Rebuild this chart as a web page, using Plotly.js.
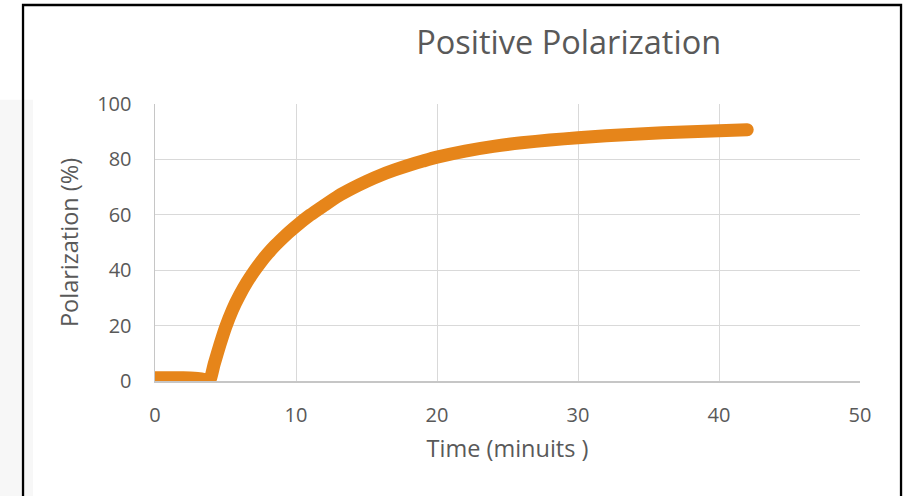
<!DOCTYPE html>
<html>
<head>
<meta charset="utf-8">
<script src="https://cdn.plot.ly/plotly-3.0.1.min.js"></script>
<style>
html,body{margin:0;padding:0;background:#fff;}
#chart{width:907px;height:496px;}
.scatterlayer .js-line{stroke-linecap:round !important;stroke-linejoin:round !important;}
</style>
</head>
<body>
<div id="chart"></div>
<script>
const chartTitle = "Positive Polarization";
const xTitle = "Time (minuits )";
const yTitle = "Polarization (%)";
const timeMin = [0, 0.5, 1, 1.5, 2, 2.5, 3, 3.5, 3.85, 4.2, 4.6, 5, 5.5, 6, 6.5, 7, 7.5, 8, 8.5, 9, 9.5, 10, 11, 12, 13, 14, 15, 16, 17, 18, 19, 20, 22, 24, 26, 28, 30, 32, 34, 36, 38, 40, 42];
const polarization = [1.2, 1.2, 1.2, 1.2, 1.2, 1.1, 0.9, 0.5, 0, 6.2, 13, 19.3, 25.8, 31, 35.5, 39.4, 42.9, 46, 48.8, 51.3, 53.7, 55.9, 59.9, 63.4, 66.8, 69.6, 72.1, 74.3, 76.2, 77.9, 79.4, 80.8, 83.0, 84.7, 86.0, 87.0, 87.8, 88.5, 89.1, 89.6, 90.0, 90.35, 90.7];
const xTicks = [0, 10, 20, 30, 40, 50];
const yTicks = [0, 20, 40, 60, 80, 100];

const font = "'Open Sans', 'Noto Sans', sans-serif";
const grey = "#595959";

const trace = {
  x: timeMin, y: polarization, type: "scatter", mode: "lines",
  line: {color: "#E6851A", width: 13, shape: "spline", smoothing: 0.6},
  hoverinfo: "skip", showlegend: false
};

const layout = {
  width: 907, height: 496,
  margin: {l: 155, r: 47, t: 104, b: 115, pad: 0},
  paper_bgcolor: "#fff", plot_bgcolor: "#fff",
  font: {family: font, color: grey, size: 20},
  title: {text: chartTitle, font: {family: font, size: 32.5, color: grey},
          x: 0.627, xref: "container", xanchor: "center", y: 0.915, yref: "container", yanchor: "middle"},
  xaxis: {
    range: [0, 50], tickvals: xTicks, ticktext: xTicks.map(String),
    showgrid: true, gridcolor: "#d9d9d9", gridwidth: 1,
    showline: true, linecolor: "#c6c6c6", linewidth: 1.5, zeroline: false,
    ticks: "", ticklabelstandoff: 15, tickfont: {size: 20, color: grey},
    title: {text: xTitle, font: {size: 23.5, color: grey}, standoff: 14},
    fixedrange: true
  },
  yaxis: {
    range: [0, 100], tickvals: yTicks, ticktext: yTicks.map(String),
    showgrid: true, gridcolor: "#d9d9d9", gridwidth: 1,
    showline: true, linecolor: "#c6c6c6", linewidth: 1.5, zeroline: false,
    ticks: "", ticklabelstandoff: 18, tickfont: {size: 20, color: grey},
    title: {text: yTitle, font: {size: 23.5, color: grey}, standoff: 12},
    fixedrange: true
  },
  shapes: [
    {type: "rect", xref: "paper", yref: "paper", layer: "below",
     x0: -0.22, x1: -0.1730, y0: -0.5, y1: 1.015, fillcolor: "#f7f7f7", line: {width: 0}},
    {type: "rect", xref: "paper", yref: "paper", layer: "above",
     x0: -0.1872, x1: 1.0582, y0: -0.5, y1: 1.3574, fillcolor: "rgba(0,0,0,0)", line: {color: "#000", width: 2.3}}
  ]
};

Plotly.newPlot("chart", [trace], layout, {staticPlot: true, displayModeBar: false});
</script>
</body>
</html>
